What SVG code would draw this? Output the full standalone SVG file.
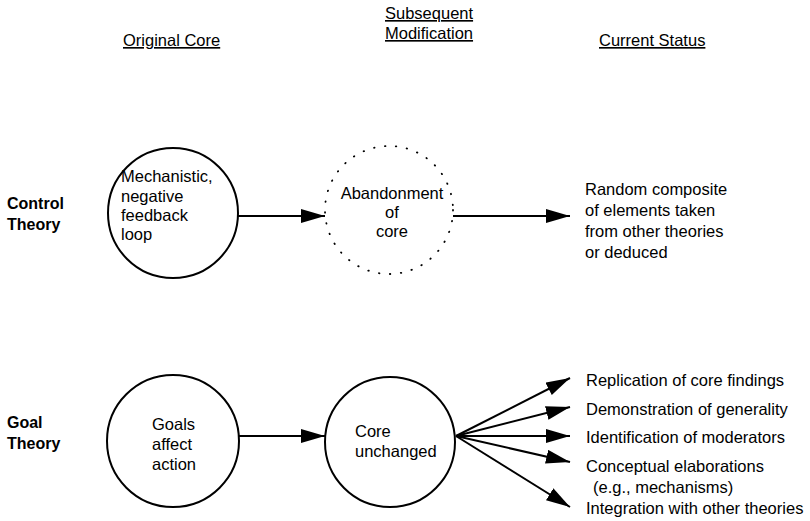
<svg xmlns="http://www.w3.org/2000/svg" width="810" height="521" viewBox="0 0 810 521">
<style>
text{font-family:"Liberation Sans",Arial,Helvetica,sans-serif;font-size:16.5px;fill:#000}
.hd{text-decoration:underline}
.lb{font-weight:bold;font-size:16px}
.node{fill:none;stroke:#000;stroke-width:2}
.dot{fill:none;stroke:#000;stroke-width:1.8;stroke-linecap:round;stroke-dasharray:0.5 10.5}
.edge{fill:none;stroke:#000;stroke-width:2}
</style>
<defs>
<marker id="ah" markerUnits="userSpaceOnUse" markerWidth="25" markerHeight="15" refX="24" refY="7" orient="auto">
<path d="M0,0 L24,7 L0,14 z" fill="#000"/>
</marker>
</defs>
<rect width="810" height="521" fill="#fff"/>
<g id="headers">
<text class="hd" x="123" y="46">Original Core</text>
<text class="hd" x="385" y="19">Subsequent</text>
<text class="hd" x="385" y="39">Modification</text>
<text class="hd" x="599" y="46">Current Status</text>
</g>
<g id="label-control">
<text class="lb" x="7" y="209">Control</text>
<text class="lb" x="7" y="230">Theory</text>
</g>
<g id="label-goal">
<text class="lb" x="7" y="428">Goal</text>
<text class="lb" x="7" y="449">Theory</text>
</g>
<g id="node-mechanistic">
<circle class="node" cx="173" cy="213" r="65"/>
<text x="121" y="182">Mechanistic,</text>
<text x="121" y="202">negative</text>
<text x="121" y="221">feedback</text>
<text x="121" y="240">loop</text>
</g>
<g id="node-abandonment">
<circle class="dot" cx="389" cy="210" r="64"/>
<text x="392" y="199" text-anchor="middle">Abandonment</text>
<text x="392" y="218" text-anchor="middle">of</text>
<text x="392" y="237" text-anchor="middle">core</text>
</g>
<g id="node-random">
<text x="585" y="195">Random composite</text>
<text x="585" y="216">of elements taken</text>
<text x="585" y="237">from other theories</text>
<text x="585" y="258">or deduced</text>
</g>
<g id="node-goals">
<circle class="node" cx="173" cy="441" r="66"/>
<text x="152" y="430">Goals</text>
<text x="152" y="450">affect</text>
<text x="152" y="470">action</text>
</g>
<g id="node-core">
<circle class="node" cx="390" cy="442" r="65"/>
<text x="355" y="437">Core</text>
<text x="355" y="457">unchanged</text>
</g>
<g id="node-replication"><text x="586" y="386">Replication of core findings</text></g>
<g id="node-demonstration"><text x="586" y="415">Demonstration of generality</text></g>
<g id="node-identification"><text x="586" y="443">Identification of moderators</text></g>
<g id="node-conceptual">
<text x="586" y="472">Conceptual elaborations</text>
<text x="593" y="493">(e.g., mechanisms)</text>
</g>
<g id="node-integration"><text x="586" y="514">Integration with other theories</text></g>
<g id="connectors">
<line class="edge" x1="238" y1="216" x2="325" y2="216" marker-end="url(#ah)"/>
<line class="edge" x1="453" y1="216" x2="570" y2="216" marker-end="url(#ah)"/>
<line class="edge" x1="239" y1="436" x2="325" y2="436" marker-end="url(#ah)"/>
<line class="edge" x1="456" y1="436" x2="570" y2="378" marker-end="url(#ah)"/>
<line class="edge" x1="456" y1="436" x2="570" y2="407" marker-end="url(#ah)"/>
<line class="edge" x1="456" y1="436" x2="570" y2="436" marker-end="url(#ah)"/>
<line class="edge" x1="456" y1="436" x2="570" y2="462" marker-end="url(#ah)"/>
<line class="edge" x1="456" y1="436" x2="570" y2="507" marker-end="url(#ah)"/>
</g>
</svg>
